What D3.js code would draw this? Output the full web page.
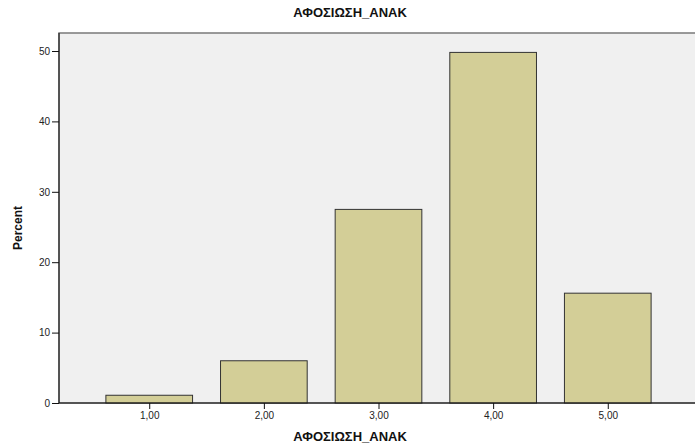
<!DOCTYPE html>
<html><head><meta charset="utf-8">
<script src="https://cdn.jsdelivr.net/npm/d3@7"></script>
<style>body{margin:0;background:#fff;} svg{display:block;font-family:Arial,"Liberation Sans",sans-serif;}</style>
</head><body>
<svg id="c" width="695" height="445"></svg>
<script>
const categories = [1, 2, 3, 4, 5];
const tickLabels = ["1,00", "2,00", "3,00", "4,00", "5,00"];
const percents = [1.1, 6.0, 27.5, 49.8, 15.6];
const yTicks = [0, 10, 20, 30, 40, 50];
const title = "ΑΦΟΣΙΩΣΗ_ΑΝΑΚ";
const xTitle = "ΑΦΟΣΙΩΣΗ_ΑΝΑΚ";
const yTitle = "Percent";

(function () {
const svg = d3.select("#c");
const pL = 59, pT = 33, pB = 403, pR = 698;
const x = d3.scaleLinear().domain([0.213, 5.787]).range([pL, pR]);
const y = d3.scaleLinear().domain([0, 50]).range([pB, 51]);
const bw = (x(2) - x(1)) * 0.756;

svg.append("rect").attr("x", pL).attr("y", pT).attr("width", pR - pL).attr("height", pB - pT)
  .attr("fill", "#f0f0f0").attr("stroke", "#7a7a7a").attr("stroke-width", 1.5);

svg.selectAll("rect.bar").data(categories).join("rect").attr("class", "bar")
  .attr("x", d => x(d) - bw / 2)
  .attr("width", bw)
  .attr("y", (d, i) => y(percents[i]))
  .attr("height", (d, i) => pB - y(percents[i]))
  .attr("fill", "#d3ce97").attr("stroke", "#333").attr("stroke-width", 1);

const yAxis = d3.axisLeft(y).tickValues(yTicks).tickSize(7).tickPadding(2).tickFormat(d3.format("d"));
const ga = svg.append("g").attr("transform", `translate(${pL},0)`).call(yAxis);
ga.select(".domain").attr("d", `M0,${pT}V${pB}`).attr("stroke", "#111");
ga.selectAll("text").attr("font-size", 10).attr("fill", "#222").attr("font-family", "Arial,'Liberation Sans',sans-serif");
ga.selectAll("line").attr("stroke", "#111");

const xAxis = d3.axisBottom(x).tickValues(categories).tickSize(6).tickPadding(3).tickFormat((d, i) => tickLabels[i]);
const gb = svg.append("g").attr("transform", `translate(0,${pB})`).call(xAxis);
gb.select(".domain").attr("d", `M${pL},0H${pR}`).attr("stroke", "#111");
gb.selectAll("text").attr("font-size", 10).attr("fill", "#222").attr("font-family", "Arial,'Liberation Sans',sans-serif");
gb.selectAll("line").attr("stroke", "#111");

svg.append("text").attr("x", 350).attr("y", 17).attr("text-anchor", "middle")
  .attr("font-size", 13).attr("font-weight", "bold").attr("fill", "#111").text(title);
svg.append("text").attr("x", 350).attr("y", 441).attr("text-anchor", "middle")
  .attr("font-size", 13).attr("font-weight", "bold").attr("fill", "#111").text(xTitle);
svg.append("text").attr("transform", "translate(22,228) rotate(-90)").attr("text-anchor", "middle")
  .attr("font-size", 12).attr("font-weight", "bold").attr("fill", "#111").text(yTitle);
})();
</script>
</body></html>
